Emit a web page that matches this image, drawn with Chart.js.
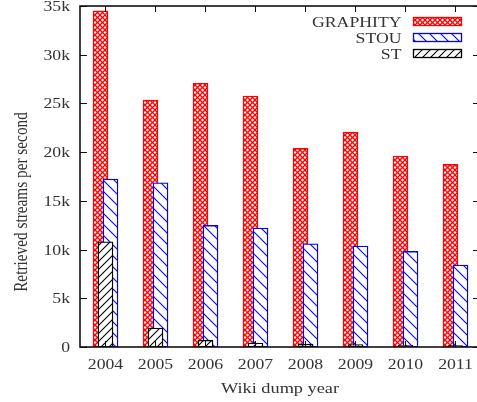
<!DOCTYPE html>
<html>
<head>
<meta charset="utf-8">
<script src="https://cdn.jsdelivr.net/npm/chart.js@4"></script>
<style>
html,body{margin:0;padding:0;background:#fff;overflow:hidden;}
canvas{display:block;}
</style>
</head>
<body>
<canvas id="c" width="490" height="402"></canvas>
<script>
// ---- data ----
const years = [2004, 2005, 2006, 2007, 2008, 2009, 2010, 2011];
const graphity = [34500, 25350, 27070, 25760, 20390, 22070, 19600, 18750];
const stou = [17240, 16860, 12490, 12210, 10600, 10370, 9820, 8420];
const st = [10800, 1950, 690, 410, 300, 250, 200, 150];
const seriesNames = ['GRAPHITY', 'STOU', 'ST'];
const yTicks = [0, 5000, 10000, 15000, 20000, 25000, 30000, 35000];
const yTickLabels = ['0', '5k', '10k', '15k', '20k', '25k', '30k', '35k'];
const xTitle = 'Wiki dump year';
const yTitle = 'Retrieved streams per second';

// ---- patterns ----
const ctx0 = document.getElementById('c').getContext('2d');
function pat(size, draw) {
  const c = document.createElement('canvas');
  c.width = size; c.height = size;
  const g = c.getContext('2d');
  g.fillStyle = '#fff';
  g.fillRect(0, 0, size, size);
  draw(g, size);
  return ctx0.createPattern(c, 'repeat');
}
const redPat = pat(5, (g, s) => {
  g.strokeStyle = '#ff0000';
  g.lineWidth = 1.25;
  for (let k = -1; k <= 1; k++) {
    g.beginPath(); g.moveTo(k * s - 1, -1); g.lineTo(k * s + s + 1, s + 1); g.stroke();
    g.beginPath(); g.moveTo(k * s - 1, s + 1); g.lineTo(k * s + s + 1, -1); g.stroke();
  }
});
const bluePat = pat(11, (g, s) => {
  g.strokeStyle = '#0000ff';
  g.lineWidth = 1.1;
  for (let k = -1; k <= 1; k++) {
    g.beginPath(); g.moveTo(k * s - 1, -1); g.lineTo(k * s + s + 1, s + 1); g.stroke();
  }
});
const blackPat = pat(8, (g, s) => {
  g.strokeStyle = '#000';
  g.lineWidth = 1.1;
  for (let k = -1; k <= 1; k++) {
    g.beginPath(); g.moveTo(k * s - 1, s + 1); g.lineTo(k * s + s + 1, -1); g.stroke();
  }
});

const FONT = '15px "Liberation Serif", serif';
const SX = 1.18;
const TEXT = '#333';

function txt(ctx, s, x, y, align, font, sx) {
  ctx.save();
  ctx.font = font || FONT;
  ctx.fillStyle = TEXT;
  ctx.textAlign = align;
  ctx.textBaseline = 'alphabetic';
  ctx.translate(x, y);
  ctx.scale(sx || SX, 1);
  ctx.fillText(s, 0, 0);
  ctx.restore();
}

const styles = [
  { fill: redPat, border: '#ff0000' },
  { fill: bluePat, border: '#0000ff' },
  { fill: blackPat, border: '#000000' }
];

const decor = {
  id: 'decor',
  afterDatasetsDraw(chart) {
    const ctx = chart.ctx;
    const a = chart.chartArea;
    const xs = chart.scales.x, ys = chart.scales.y;
    ctx.save();
    ctx.strokeStyle = '#111';
    ctx.lineWidth = 1;
    ctx.beginPath();
    yTicks.forEach(v => {
      const p = Math.round(ys.getPixelForValue(v)) + 0.5;
      ctx.moveTo(a.left, p); ctx.lineTo(a.left + 7, p);
      ctx.moveTo(a.right, p); ctx.lineTo(a.right - 7, p);
    });
    years.forEach(v => {
      const p = Math.round(xs.getPixelForValue(v)) + 0.5;
      ctx.moveTo(p, a.top); ctx.lineTo(p, a.top + 6);
      ctx.moveTo(p, a.bottom); ctx.lineTo(p, a.bottom - 6);
    });
    ctx.stroke();
    ctx.lineWidth = 1.6;
    ctx.strokeRect(a.left, a.top, a.right - a.left, a.bottom - a.top);
    ctx.restore();

    yTicks.forEach((v, i) => {
      txt(ctx, yTickLabels[i], a.left - 10, ys.getPixelForValue(v) + 5, 'right');
    });
    years.forEach(v => {
      txt(ctx, String(v), xs.getPixelForValue(v), a.bottom + 21.5, 'center');
    });
    txt(ctx, xTitle, (a.left + a.right) / 2, 393, 'center', '15.5px "Liberation Serif", serif');
    ctx.save();
    ctx.font = '15.3px "Liberation Serif", serif';
    ctx.fillStyle = TEXT;
    ctx.textAlign = 'center';
    ctx.translate(26.5, 202);
    ctx.rotate(-Math.PI / 2);
    ctx.scale(1, SX);
    ctx.fillText(yTitle, 0, 0);
    ctx.restore();

    const rowY = [21.5, 37.5, 53.5];
    seriesNames.forEach((name, i) => {
      txt(ctx, name, 401.5, rowY[i] + 5, 'right');
      ctx.save();
      ctx.fillStyle = styles[i].fill;
      ctx.fillRect(413.5, rowY[i] - 4, 48, 8);
      ctx.strokeStyle = styles[i].border;
      ctx.lineWidth = 1.3;
      ctx.strokeRect(413.5, rowY[i] - 4, 48, 8);
      ctx.restore();
    });
  }
};

const offsets = [-0.1, 0.1, 0];
const series = [graphity, stou, st];
const drawOrder = [2, 1, 0];

new Chart(document.getElementById('c'), {
  type: 'bar',
  data: {
    datasets: series.map((vals, i) => ({
      label: seriesNames[i],
      data: years.map((yr, j) => ({ x: yr + offsets[i], y: vals[j] })),
      backgroundColor: styles[i].fill,
      borderColor: styles[i].border,
      borderWidth: 1.4,
      borderSkipped: false,
      barThickness: 15,
      grouped: false,
      order: drawOrder[i]
    }))
  },
  options: {
    responsive: false,
    animation: false,
    events: [],
    layout: { padding: { top: 6, right: 10, left: 0, bottom: 0 } },
    plugins: { legend: { display: false }, tooltip: { enabled: false } },
    scales: {
      x: {
        type: 'linear',
        offset: false,
        min: 2003.49, max: 2011.49,
        ticks: { display: false },
        grid: { display: false, offset: false },
        border: { display: false },
        afterFit: s => { s.height = 55; }
      },
      y: {
        type: 'linear',
        min: 0, max: 35000,
        ticks: { display: false },
        grid: { display: false },
        border: { display: false },
        afterFit: s => { s.width = 80; }
      }
    }
  },
  plugins: [decor]
});
</script>
</body>
</html>
